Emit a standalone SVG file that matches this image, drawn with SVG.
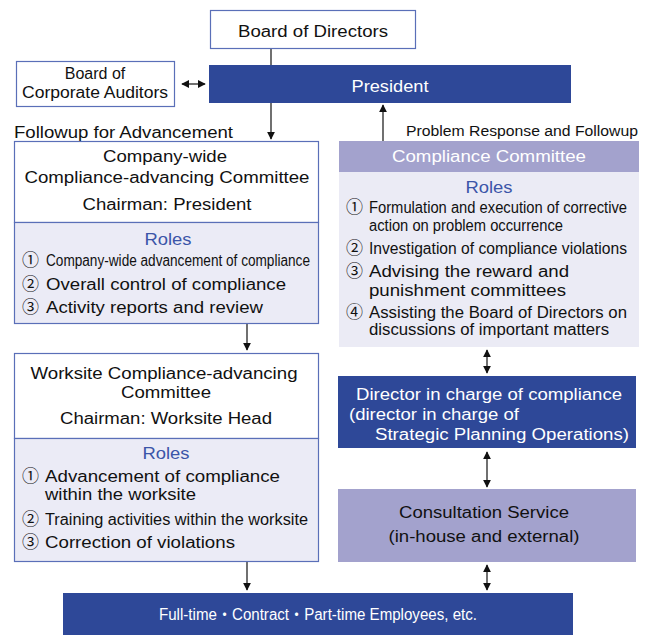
<svg xmlns="http://www.w3.org/2000/svg" width="653" height="635" viewBox="0 0 653 635">
<style>
text{font-family:"Liberation Sans",Arial,"Noto Sans CJK JP",sans-serif;font-size:16px;fill:#111}
.w{fill:#fff}
.b{fill:#3b55a8}
.c{text-anchor:middle}
.box{fill:#fff;stroke:#5a6fb8;stroke-width:1.2}
.lav{fill:#ebebf6;stroke:#5a6fb8;stroke-width:1.2}
.dark{fill:#2e4898}
.mid{fill:#a3a2cd}
.light{fill:#ebebf5}
.ln{stroke:#111;stroke-width:1.2;fill:none}
.num{font-family:"Noto Sans CJK JP","DejaVu Sans",sans-serif;font-size:17px}
</style>
<defs>
<marker id="ah" viewBox="0 0 10 10" refX="9" refY="5" markerWidth="8" markerHeight="8" markerUnits="userSpaceOnUse" orient="auto-start-reverse">
<path d="M0,0 L10,5 L0,10 z" fill="#111"/>
</marker>
</defs>

<g id="connectors">
<line class="ln" x1="271" y1="48" x2="271" y2="65"/>
<line class="ln" x1="182" y1="84" x2="205" y2="84" marker-start="url(#ah)" marker-end="url(#ah)"/>
<line class="ln" x1="271" y1="103" x2="271" y2="139" marker-end="url(#ah)"/>
<line class="ln" x1="383" y1="141" x2="383" y2="105" marker-end="url(#ah)"/>
<line class="ln" x1="247" y1="323" x2="247" y2="350" marker-end="url(#ah)"/>
<line class="ln" x1="487" y1="350" x2="487" y2="373" marker-start="url(#ah)" marker-end="url(#ah)"/>
<line class="ln" x1="487" y1="452" x2="487" y2="487" marker-start="url(#ah)" marker-end="url(#ah)"/>
<line class="ln" x1="247" y1="561" x2="247" y2="590" marker-end="url(#ah)"/>
<line class="ln" x1="487" y1="565" x2="487" y2="590" marker-start="url(#ah)" marker-end="url(#ah)"/>
</g>

<g id="board-of-directors">
<rect class="box" x="210.5" y="10.5" width="205" height="38"/>
<text class="c" x="313" y="37" textLength="150" lengthAdjust="spacingAndGlyphs">Board of Directors</text>
</g>

<g id="president">
<rect class="dark" x="209" y="65" width="362" height="38"/>
<text class="c w" x="390" y="92" textLength="77" lengthAdjust="spacingAndGlyphs">President</text>
</g>

<g id="corporate-auditors">
<rect class="box" x="16.5" y="61.5" width="158" height="45"/>
<text class="c" x="95" y="79">Board of</text>
<text class="c" x="95" y="98" textLength="146" lengthAdjust="spacingAndGlyphs">Corporate Auditors</text>
</g>

<text x="14" y="138" textLength="219" lengthAdjust="spacingAndGlyphs">Followup for Advancement</text>
<text x="406" y="136" style="font-size:14px" textLength="232" lengthAdjust="spacingAndGlyphs">Problem Response and Followup</text>

<g id="company-wide-committee">
<rect class="box" x="14.5" y="141.5" width="304" height="81"/>
<rect class="lav" x="14.5" y="222.5" width="304" height="101"/>
<text class="c" x="165" y="162" textLength="124" lengthAdjust="spacingAndGlyphs">Company-wide</text>
<text class="c" x="167" y="183" textLength="285" lengthAdjust="spacingAndGlyphs">Compliance-advancing Committee</text>
<text class="c" x="167" y="210" textLength="169" lengthAdjust="spacingAndGlyphs">Chairman: President</text>
<text class="c b" x="168" y="245" textLength="47" lengthAdjust="spacingAndGlyphs">Roles</text>
<text class="num" x="22" y="266">①</text>
<text x="46" y="266" textLength="264" lengthAdjust="spacingAndGlyphs">Company-wide advancement of compliance</text>
<text class="num" x="22" y="290">②</text>
<text x="46" y="290" textLength="240" lengthAdjust="spacingAndGlyphs">Overall control of compliance</text>
<text class="num" x="22" y="313">③</text>
<text x="46" y="313" textLength="217" lengthAdjust="spacingAndGlyphs">Activity reports and review</text>
</g>

<g id="worksite-committee">
<rect class="box" x="14.5" y="353.5" width="304" height="85"/>
<rect class="lav" x="14.5" y="438.5" width="304" height="123"/>
<text class="c" x="164" y="379" textLength="267" lengthAdjust="spacingAndGlyphs">Worksite Compliance-advancing</text>
<text class="c" x="166" y="398" textLength="90" lengthAdjust="spacingAndGlyphs">Committee</text>
<text class="c" x="166" y="424" textLength="212" lengthAdjust="spacingAndGlyphs">Chairman: Worksite Head</text>
<text class="c b" x="166" y="459" textLength="47" lengthAdjust="spacingAndGlyphs">Roles</text>
<text class="num" x="22" y="482">①</text>
<text x="45" y="482" textLength="235" lengthAdjust="spacingAndGlyphs">Advancement of compliance</text>
<text x="45" y="500" textLength="151" lengthAdjust="spacingAndGlyphs">within the worksite</text>
<text class="num" x="22" y="525">②</text>
<text x="45" y="525" textLength="263" lengthAdjust="spacingAndGlyphs">Training activities within the worksite</text>
<text class="num" x="22" y="548">③</text>
<text x="45" y="548" textLength="190" lengthAdjust="spacingAndGlyphs">Correction of violations</text>
</g>

<g id="compliance-committee">
<rect class="mid" x="339" y="141" width="300" height="31"/>
<rect class="light" x="339" y="172" width="300" height="175"/>
<text class="c w" x="489" y="162" textLength="194" lengthAdjust="spacingAndGlyphs">Compliance Committee</text>
<text class="c b" x="489" y="193" textLength="47" lengthAdjust="spacingAndGlyphs">Roles</text>
<text class="num" x="346" y="213">①</text>
<text x="369" y="213" textLength="258" lengthAdjust="spacingAndGlyphs">Formulation and execution of corrective</text>
<text x="369" y="231" textLength="194" lengthAdjust="spacingAndGlyphs">action on problem occurrence</text>
<text class="num" x="346" y="254">②</text>
<text x="369" y="254" textLength="258" lengthAdjust="spacingAndGlyphs">Investigation of compliance violations</text>
<text class="num" x="346" y="277">③</text>
<text x="369" y="277" textLength="200" lengthAdjust="spacingAndGlyphs">Advising the reward and</text>
<text x="369" y="296" textLength="197" lengthAdjust="spacingAndGlyphs">punishment committees</text>
<text class="num" x="346" y="318">④</text>
<text x="369" y="318" textLength="258" lengthAdjust="spacingAndGlyphs">Assisting the Board of Directors on</text>
<text x="369" y="335" textLength="240" lengthAdjust="spacingAndGlyphs">discussions of important matters</text>
</g>

<g id="director-compliance">
<rect class="dark" x="338" y="376" width="298" height="72"/>
<text class="w" x="356" y="400" textLength="266" lengthAdjust="spacingAndGlyphs">Director in charge of compliance</text>
<text class="w" x="349" y="420" textLength="170" lengthAdjust="spacingAndGlyphs">(director in charge of</text>
<text class="w" x="375" y="440" textLength="254" lengthAdjust="spacingAndGlyphs">Strategic Planning Operations)</text>
</g>

<g id="consultation-service">
<rect class="mid" x="338" y="489" width="298" height="73"/>
<text class="c" x="484" y="518" textLength="170" lengthAdjust="spacingAndGlyphs">Consultation Service</text>
<text class="c" x="484" y="542" textLength="191" lengthAdjust="spacingAndGlyphs">(in-house and external)</text>
</g>

<g id="employees">
<rect class="dark" x="63" y="593" width="510" height="42"/>
<text class="c w" x="318" y="620" textLength="318" lengthAdjust="spacingAndGlyphs">Full-time・Contract・Part-time Employees, etc.</text>
</g>
</svg>
